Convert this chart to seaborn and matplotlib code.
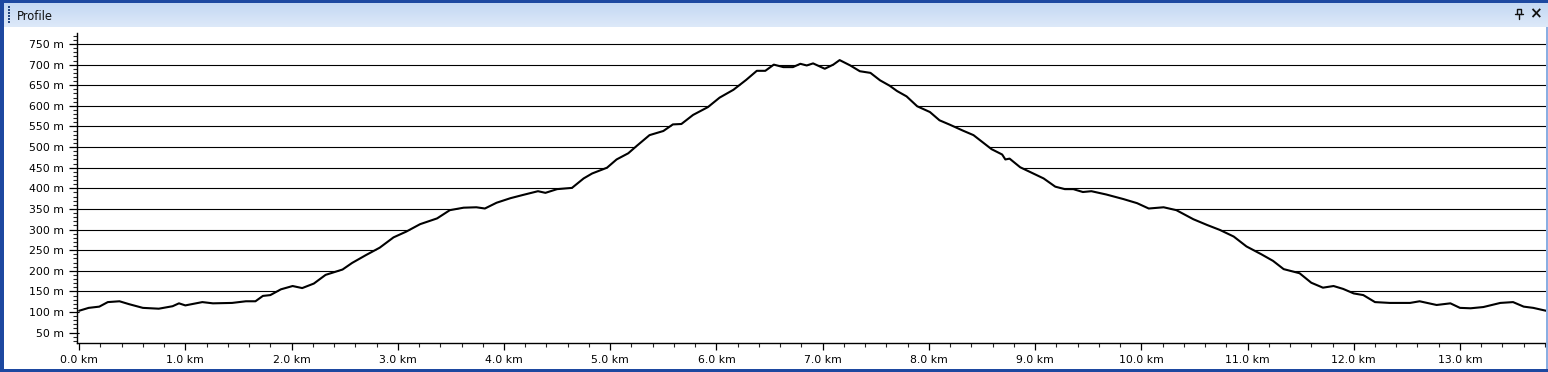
import numpy as np
import pandas as pd
import matplotlib
matplotlib.use("Agg")
import matplotlib.pyplot as plt
from matplotlib.ticker import FixedLocator, MultipleLocator
from matplotlib.patches import Rectangle
from matplotlib.lines import Line2D
import seaborn as sns

# ---------------- data ----------------
dist_km = [0.00, 0.09, 0.19, 0.27, 0.38, 0.47, 0.60, 0.75, 0.88, 0.94, 1.00, 1.16,
           1.26, 1.44, 1.57, 1.66, 1.73, 1.80, 1.90, 2.01, 2.10, 2.21, 2.32, 2.48,
           2.57, 2.70, 2.83, 2.96, 3.08, 3.21, 3.37, 3.49, 3.62, 3.74, 3.82, 3.93,
           4.06, 4.18, 4.32, 4.39, 4.50, 4.64, 4.75, 4.83, 4.97, 5.06, 5.17, 5.25,
           5.37, 5.50, 5.59, 5.67, 5.78, 5.92, 6.03, 6.16, 6.28, 6.38, 6.46, 6.54,
           6.63, 6.72, 6.79, 6.85, 6.91, 7.02, 7.10, 7.16, 7.26, 7.35, 7.45, 7.54,
           7.63, 7.70, 7.79, 7.89, 8.01, 8.10, 8.20, 8.32, 8.42, 8.51, 8.59, 8.69,
           8.72, 8.76, 8.86, 8.95, 9.08, 9.19, 9.28, 9.36, 9.45, 9.53, 9.67, 9.83,
           9.96, 10.07, 10.21, 10.33, 10.49, 10.62, 10.74, 10.87, 10.99, 11.13, 11.24,
           11.34, 11.49, 11.60, 11.71, 11.81, 11.90, 12.00, 12.09, 12.20, 12.34, 12.53,
           12.62, 12.78, 12.91, 13.00, 13.10, 13.22, 13.38, 13.50, 13.60, 13.69, 13.81]
elev_m = [103, 110, 113, 124, 126, 119, 110, 108, 114, 121, 116, 124,
          121, 122, 126, 126, 139, 141, 155, 163, 158, 169, 190, 203,
          219, 238, 256, 281, 295, 313, 327, 347, 353, 354, 351, 365,
          376, 384, 393, 389, 398, 401, 424, 436, 450, 470, 485, 503,
          529, 539, 555, 556, 578, 597, 620, 639, 663, 685, 685, 700,
          694, 694, 702, 698, 703, 690, 700, 711, 698, 684, 680, 662,
          649, 636, 623, 599, 585, 565, 554, 540, 529, 511, 495, 482,
          470, 472, 451, 440, 424, 404, 398, 398, 391, 393, 385, 374,
          364, 351, 354, 347, 325, 311, 299, 283, 259, 240, 224,
          204, 194, 171, 159, 163, 156, 145, 141, 124, 122, 122,
          126, 117, 121, 110, 109, 112, 122, 124, 113, 110, 103]

y_ticks = [50, 100, 150, 200, 250, 300, 350, 400, 450, 500, 550, 600, 650, 700, 750]
y_labels = [f"{v} m" for v in y_ticks]
x_ticks = [0, 1, 2, 3, 4, 5, 6, 7, 8, 9, 10, 11, 12, 13]
x_labels = [f"{v:.1f} km" for v in x_ticks]
panel_title = "Profile"

df = pd.DataFrame({"dist": dist_km, "elev": elev_m})

# ---------------- figure ----------------
sns.set_style("white")
plt.rcParams["font.family"] = ["DejaVu Sans"]

W, H = 1548, 372
fig = plt.figure(figsize=(W / 100, H / 100), dpi=100)
fig.patch.set_facecolor("white")

def px_rect(x0, y0, w, h, color, z=0):
    # rectangle in pixel coords measured from top-left
    fig.add_artist(Rectangle((x0 / W, 1 - (y0 + h) / H), w / W, h / H,
                             transform=fig.transFigure, color=color, lw=0, zorder=z))

# title bar gradient
tax = fig.add_axes([0, 1 - 27 / H, 1, 24 / H])
grad = np.linspace(0, 1, 50).reshape(-1, 1)
from matplotlib.colors import LinearSegmentedColormap
cmap = LinearSegmentedColormap.from_list("bar", ["#c4d8f3", "#dde9f9"])
tax.imshow(grad, aspect="auto", cmap=cmap, extent=[0, 1, 0, 1], origin="upper")
tax.set_xlim(0, 1); tax.set_ylim(0, 1)
tax.axis("off")
fig.text(17 / W, 1 - 16 / H, panel_title, fontsize=8.3, color="#111111",
         va="center", ha="left")
# grip dots
for i in range(6):
    px_rect(8, 6 + i * 3, 1.5, 1.5, "#24467f", z=5)
# pin icon and close cross
pin_x, pin_y = 1519, 14
fig.add_artist(Line2D([(pin_x - 2) / W, (pin_x - 2) / W, (pin_x + 2) / W, (pin_x + 2) / W],
                      [1 - (pin_y - 0) / H, 1 - (pin_y - 5) / H, 1 - (pin_y - 5) / H, 1 - pin_y / H],
                      transform=fig.transFigure, color="#111111", lw=1.0))
fig.add_artist(Line2D([(pin_x - 4) / W, (pin_x + 4) / W], [1 - pin_y / H, 1 - pin_y / H],
                      transform=fig.transFigure, color="#111111", lw=1.0))
fig.add_artist(Line2D([pin_x / W, pin_x / W], [1 - pin_y / H, 1 - (pin_y + 5) / H],
                      transform=fig.transFigure, color="#111111", lw=1.0))
fig.text(1535 / W, 1 - 14 / H, "×", fontsize=11, color="#111111", va="center", ha="center",
         fontweight="bold")

# window frame
px_rect(0, 0, W, 3, "#1d48a0", z=4)
px_rect(0, 0, 4, H, "#1d48a0", z=4)
px_rect(0, H - 3, W, 3, "#1d48a0", z=4)
px_rect(W - 2, 27, 2, H - 30, "#8aaee2", z=4)

# ---------------- profile axes ----------------
left_px, right_px, top_px, bottom_px = 77, 1546, 33.3, 342.5
ax = fig.add_axes([left_px / W, 1 - bottom_px / H,
                   (right_px - left_px) / W, (bottom_px - top_px) / H])
ax.set_facecolor("white")
ax.set_xlim(-0.02, 13.81)
ax.set_ylim(26, 776)

for v in y_ticks:
    ax.axhline(v, color="black", lw=0.8, zorder=1)

ax.fill_between(df["dist"], 0, df["elev"], color="white", lw=0, zorder=2)
sns.lineplot(data=df, x="dist", y="elev", ax=ax, color="black", lw=1.5, zorder=3)

ax.set_xlabel("")
ax.set_ylabel("")
ax.yaxis.set_major_locator(FixedLocator(y_ticks))
ax.set_yticklabels(y_labels)
ax.yaxis.set_minor_locator(MultipleLocator(10))
ax.xaxis.set_major_locator(FixedLocator(x_ticks))
ax.set_xticklabels(x_labels)
ax.xaxis.set_minor_locator(MultipleLocator(0.2))

for s in ["top", "right"]:
    ax.spines[s].set_visible(False)
for s in ["left", "bottom"]:
    ax.spines[s].set_color("black")
    ax.spines[s].set_linewidth(1.0)

ax.tick_params(axis="y", which="major", direction="out", length=5.8, width=0.9,
               pad=3.5, labelsize=7.8, colors="black", left=True)
ax.tick_params(axis="y", which="minor", direction="out", length=2.9, width=0.8, left=True)
ax.tick_params(axis="x", which="major", direction="out", length=5.0, width=0.9,
               pad=4.0, labelsize=7.8, colors="black", bottom=True)
ax.tick_params(axis="x", which="minor", direction="out", length=2.9, width=0.8, bottom=True)

fig.savefig("out.png", dpi=100)
